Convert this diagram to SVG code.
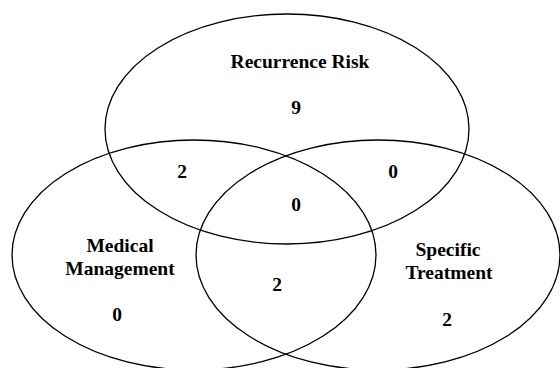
<svg xmlns="http://www.w3.org/2000/svg" width="560" height="368" viewBox="0 0 560 368">
<style>
.set{fill:none;stroke:#000;stroke-width:1.3}
.t{font-family:"Liberation Serif","Times New Roman",serif;font-weight:bold;font-size:19.5px;fill:#000;text-anchor:middle}
</style>
<rect width="560" height="368" fill="#fff"/>
<g id="recurrence-risk">
<ellipse class="set" cx="287" cy="129" rx="182" ry="115"/>
<text class="t" x="300" y="68">Recurrence Risk</text>
<text class="t" x="296" y="114">9</text>
</g>
<g id="medical-management">
<ellipse class="set" cx="194" cy="255" rx="182" ry="115"/>
<text class="t" x="120" y="252">Medical</text>
<text class="t" x="120" y="275">Management</text>
<text class="t" x="117" y="321">0</text>
</g>
<g id="specific-treatment">
<ellipse class="set" cx="378" cy="255" rx="182" ry="115"/>
<text class="t" x="448" y="256">Specific</text>
<text class="t" x="449" y="279">Treatment</text>
<text class="t" x="447" y="326">2</text>
</g>
<g id="overlaps">
<text class="t" x="182" y="178">2</text>
<text class="t" x="393" y="178">0</text>
<text class="t" x="296" y="211">0</text>
<text class="t" x="277" y="291">2</text>
</g>
</svg>
